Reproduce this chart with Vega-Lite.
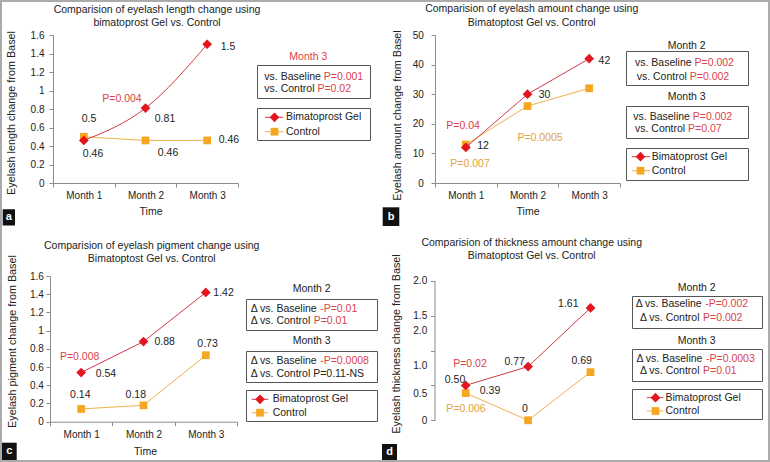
{
"$schema":"https://vega.github.io/schema/vega-lite/v6.json",
"background":"#ababab",
"padding":2,
"autosize":{"type":"pad"},
"columns":2,
"spacing":0,
"bounds":"flush",
"config":{
 "view":{"stroke":null,"fill":"white"},
 "font":"Liberation Sans",
 "text":{"font":"Liberation Sans","fontSize":10.5,"color":"#222222","baseline":"middle"},
 "line":{"strokeWidth":1},
 "axis":{"labelFont":"Liberation Sans","labelFontSize":10,"labelColor":"#222222","titleFont":"Liberation Sans","titleFontSize":10.8,"titleColor":"#222222","titleFontWeight":"normal","domainColor":"#8c8c8c","tickColor":"#8c8c8c","tickSize":4,"grid":false,"labelFlush":false,"labelOverlap":false},
 "axisX":{"titleFontSize":10.5}
},
"concat":[
{
 "width":383,"height":229,
 "resolve":{"scale":{"x":"independent","y":"independent"}},
 "layer":[
  {
   "data":{"values":[
    {"month":"Month 1","series":"Bimatoprost Gel","value":0.46,"label":"0.46"},
    {"month":"Month 2","series":"Bimatoprost Gel","value":0.81,"label":"0.81"},
    {"month":"Month 3","series":"Bimatoprost Gel","value":1.5,"label":"1.5"},
    {"month":"Month 1","series":"Control","value":0.5,"label":"0.5"},
    {"month":"Month 2","series":"Control","value":0.46,"label":"0.46"},
    {"month":"Month 3","series":"Control","value":0.46,"label":"0.46"}]},
   "encoding":{
    "x":{"field":"month","type":"nominal","bandPosition":0.5,"scale":{"type":"band","domain":["Month 1","Month 2","Month 3"],"range":[51,236],"paddingInner":0,"paddingOuter":0},"axis":{"title":"Time","offset":-48,"tickBand":"extent","labelAngle":0,"labelPadding":3,"titleX":148.5,"titleY":28,"titleBaseline":"middle","titleAlign":"center"}},
    "y":{"field":"value","type":"quantitative","scale":{"domain":[0,1.6],"range":[181,33],"nice":false,"zero":false},"axis":{"title":"Eyelash length change from Basel","offset":-51,"values":[0,0.2,0.4,0.6,0.8,1,1.2,1.4,1.6],"format":"~g","labelPadding":5,"titleX":-41.8,"titleY":110.5,"titleBaseline":"middle","titleAlign":"center","titleAngle":-90}}
   },
   "layer":[
    {"transform":[{"filter":"datum.series==='Control'"}],"mark":{"type":"line","color":"#efb14c"}},
    {"transform":[{"filter":"datum.series==='Control'"}],"mark":{"type":"point","shape":"square","filled":true,"size":60,"color":"#f6a722","opacity":1}},
    {"transform":[{"filter":"datum.series==='Bimatoprost Gel'"}],"mark":{"type":"line","color":"#d23a45","interpolate":"monotone"}},
    {"transform":[{"filter":"datum.series==='Bimatoprost Gel'"}],"mark":{"type":"point","shape":"diamond","filled":true,"size":95,"color":"#e3151f","opacity":1}},
    {"transform":[{"filter":"datum.series==='Bimatoprost Gel' && datum.month==='Month 1'"}],"mark":{"type":"text","dx":9.2,"dy":13.5},"encoding":{"text":{"field":"label"}}},
    {"transform":[{"filter":"datum.series==='Control' && datum.month==='Month 1'"}],"mark":{"type":"text","dx":5.2,"dy":-17.8},"encoding":{"text":{"field":"label"}}},
    {"transform":[{"filter":"datum.series==='Bimatoprost Gel' && datum.month==='Month 2'"}],"mark":{"type":"text","dx":-23.5,"dy":-9.1,"color":"#d8434b"},"encoding":{"text":{"value":"P=0.004"}}},
    {"transform":[{"filter":"datum.series==='Bimatoprost Gel' && datum.month==='Month 2'"}],"mark":{"type":"text","dx":19.5,"dy":10.9},"encoding":{"text":{"field":"label"}}},
    {"transform":[{"filter":"datum.series==='Bimatoprost Gel' && datum.month==='Month 3'"}],"mark":{"type":"text","dx":20.8,"dy":2.8},"encoding":{"text":{"field":"label"}}},
    {"transform":[{"filter":"datum.series==='Control' && datum.month==='Month 2'"}],"mark":{"type":"text","dx":22.5,"dy":12.5},"encoding":{"text":{"field":"label"}}},
    {"transform":[{"filter":"datum.series==='Control' && datum.month==='Month 3'"}],"mark":{"type":"text","dx":21.8,"dy":-0.5},"encoding":{"text":{"field":"label"}}}
   ]
  },
  {
   "data":{"values":[{}]},
   "layer":[
    {"mark":{"type":"text"},"encoding":{"x":{"datum":155,"type":"quantitative","scale":{"domain":[0,383],"nice":false,"zero":false},"axis":null},"y":{"datum":7.5,"type":"quantitative","scale":{"domain":[0,229],"nice":false,"zero":false,"reverse":true},"axis":null},"text":{"value":"Comparision of eyelash length change using"}}},
    {"mark":{"type":"text"},"encoding":{"x":{"datum":155,"type":"quantitative","scale":{"domain":[0,383],"nice":false,"zero":false},"axis":null},"y":{"datum":20.8,"type":"quantitative","scale":{"domain":[0,229],"nice":false,"zero":false,"reverse":true},"axis":null},"text":{"value":"bimatoprost Gel vs. Control"}}},
    {"mark":{"type":"text","color":"#d8434b"},"encoding":{"x":{"datum":306.3,"type":"quantitative","scale":{"domain":[0,383],"nice":false,"zero":false},"axis":null},"y":{"datum":55.3,"type":"quantitative","scale":{"domain":[0,229],"nice":false,"zero":false,"reverse":true},"axis":null},"text":{"value":"Month 3"}}},
    {"mark":{"type":"rect","fill":"transparent","stroke":"#555555","strokeWidth":1},"encoding":{"x":{"datum":255.5,"type":"quantitative","scale":{"domain":[0,383],"nice":false,"zero":false},"axis":null},"x2":{"datum":368.5},"y":{"datum":63.5,"type":"quantitative","scale":{"domain":[0,229],"nice":false,"zero":false,"reverse":true},"axis":null},"y2":{"datum":96.5}}},
    {"mark":{"type":"text","align":"left"},"encoding":{"x":{"datum":262.3,"type":"quantitative","scale":{"domain":[0,383],"nice":false,"zero":false},"axis":null},"y":{"datum":74.7,"type":"quantitative","scale":{"domain":[0,229],"nice":false,"zero":false,"reverse":true},"axis":null},"text":{"value":"vs. Baseline"}}},
    {"mark":{"type":"text","align":"left","color":"#d8434b"},"encoding":{"x":{"datum":321.8,"type":"quantitative","scale":{"domain":[0,383],"nice":false,"zero":false},"axis":null},"y":{"datum":74.7,"type":"quantitative","scale":{"domain":[0,229],"nice":false,"zero":false,"reverse":true},"axis":null},"text":{"value":"P=0.001"}}},
    {"mark":{"type":"text","align":"left"},"encoding":{"x":{"datum":262.3,"type":"quantitative","scale":{"domain":[0,383],"nice":false,"zero":false},"axis":null},"y":{"datum":87.3,"type":"quantitative","scale":{"domain":[0,229],"nice":false,"zero":false,"reverse":true},"axis":null},"text":{"value":"vs. Control"}}},
    {"mark":{"type":"text","align":"left","color":"#d8434b"},"encoding":{"x":{"datum":315.4,"type":"quantitative","scale":{"domain":[0,383],"nice":false,"zero":false},"axis":null},"y":{"datum":87.3,"type":"quantitative","scale":{"domain":[0,229],"nice":false,"zero":false,"reverse":true},"axis":null},"text":{"value":"P=0.02"}}},
    {"mark":{"type":"rect","fill":"transparent","stroke":"#555555","strokeWidth":1},"encoding":{"x":{"datum":255.5,"type":"quantitative","scale":{"domain":[0,383],"nice":false,"zero":false},"axis":null},"x2":{"datum":368.5},"y":{"datum":106.5,"type":"quantitative","scale":{"domain":[0,229],"nice":false,"zero":false,"reverse":true},"axis":null},"y2":{"datum":138.5}}},
    {"mark":{"type":"rule","color":"#d23a45","strokeWidth":1},"encoding":{"x":{"datum":263,"type":"quantitative","scale":{"domain":[0,383],"nice":false,"zero":false},"axis":null},"x2":{"datum":281.3},"y":{"datum":115.3,"type":"quantitative","scale":{"domain":[0,229],"nice":false,"zero":false,"reverse":true},"axis":null}}},
    {"mark":{"type":"point","shape":"diamond","filled":true,"size":95,"color":"#e3151f","opacity":1},"encoding":{"x":{"datum":272.5,"type":"quantitative","scale":{"domain":[0,383],"nice":false,"zero":false},"axis":null},"y":{"datum":115.3,"type":"quantitative","scale":{"domain":[0,229],"nice":false,"zero":false,"reverse":true},"axis":null}}},
    {"mark":{"type":"text","align":"left"},"encoding":{"x":{"datum":284,"type":"quantitative","scale":{"domain":[0,383],"nice":false,"zero":false},"axis":null},"y":{"datum":115.3,"type":"quantitative","scale":{"domain":[0,229],"nice":false,"zero":false,"reverse":true},"axis":null},"text":{"value":"Bimatoprost Gel"}}},
    {"mark":{"type":"rule","color":"#efb14c","strokeWidth":1},"encoding":{"x":{"datum":263,"type":"quantitative","scale":{"domain":[0,383],"nice":false,"zero":false},"axis":null},"x2":{"datum":281.3},"y":{"datum":129.7,"type":"quantitative","scale":{"domain":[0,229],"nice":false,"zero":false,"reverse":true},"axis":null}}},
    {"mark":{"type":"point","shape":"square","filled":true,"size":60,"color":"#f6a722","opacity":1},"encoding":{"x":{"datum":272.5,"type":"quantitative","scale":{"domain":[0,383],"nice":false,"zero":false},"axis":null},"y":{"datum":129.7,"type":"quantitative","scale":{"domain":[0,229],"nice":false,"zero":false,"reverse":true},"axis":null}}},
    {"mark":{"type":"text","align":"left"},"encoding":{"x":{"datum":284,"type":"quantitative","scale":{"domain":[0,383],"nice":false,"zero":false},"axis":null},"y":{"datum":129.7,"type":"quantitative","scale":{"domain":[0,229],"nice":false,"zero":false,"reverse":true},"axis":null},"text":{"value":"Control"}}},
    {"mark":{"type":"rect","color":"#111111"},"encoding":{"x":{"datum":0.7,"type":"quantitative","scale":{"domain":[0,383],"nice":false,"zero":false},"axis":null},"x2":{"datum":13},"y":{"datum":207.3,"type":"quantitative","scale":{"domain":[0,229],"nice":false,"zero":false,"reverse":true},"axis":null},"y2":{"datum":223.5}}},
    {"mark":{"type":"text","color":"white","fontWeight":"bold","fontSize":11},"encoding":{"x":{"datum":6.9,"type":"quantitative","scale":{"domain":[0,383],"nice":false,"zero":false},"axis":null},"y":{"datum":215.2,"type":"quantitative","scale":{"domain":[0,229],"nice":false,"zero":false,"reverse":true},"axis":null},"text":{"value":"a"}}}
   ]
  }
 ]
},
{
 "width":383,"height":229,
 "resolve":{"scale":{"x":"independent","y":"independent"}},
 "layer":[
  {
   "data":{"values":[
    {"month":"Month 1","series":"Bimatoprost Gel","value":12,"label":"12"},
    {"month":"Month 2","series":"Bimatoprost Gel","value":30,"label":"30"},
    {"month":"Month 3","series":"Bimatoprost Gel","value":42,"label":"42"},
    {"month":"Month 1","series":"Control","value":13,"label":"13"},
    {"month":"Month 2","series":"Control","value":26,"label":"26"},
    {"month":"Month 3","series":"Control","value":32,"label":"32"}]},
   "encoding":{
    "x":{"field":"month","type":"nominal","bandPosition":0.5,"scale":{"type":"band","domain":["Month 1","Month 2","Month 3"],"range":[50,235],"paddingInner":0,"paddingOuter":0},"axis":{"title":"Time","offset":-48,"tickBand":"extent","labelAngle":0,"labelPadding":3,"titleX":142.5,"titleY":28,"titleBaseline":"middle","titleAlign":"center"}},
    "y":{"field":"value","type":"quantitative","scale":{"domain":[0,50],"range":[181,33],"nice":false,"zero":false},"axis":{"title":"Eyelash amount change from Basel","offset":-50,"values":[0,10,20,30,40,50],"format":"d","labelPadding":7.7,"titleX":-38,"titleY":113,"titleBaseline":"middle","titleAlign":"center","titleAngle":-90}}
   },
   "layer":[
    {"transform":[{"filter":"datum.series==='Control'"}],"mark":{"type":"line","color":"#efb14c"}},
    {"transform":[{"filter":"datum.series==='Control'"}],"mark":{"type":"point","shape":"square","filled":true,"size":60,"color":"#f6a722","opacity":1}},
    {"transform":[{"filter":"datum.series==='Bimatoprost Gel'"}],"mark":{"type":"line","color":"#d23a45"}},
    {"transform":[{"filter":"datum.series==='Bimatoprost Gel'"}],"mark":{"type":"point","shape":"diamond","filled":true,"size":95,"color":"#e3151f","opacity":1}},
    {"transform":[{"filter":"datum.series==='Bimatoprost Gel' && datum.month==='Month 1'"}],"mark":{"type":"text","dx":17.2,"dy":-1.5},"encoding":{"text":{"field":"label"}}},
    {"transform":[{"filter":"datum.series==='Bimatoprost Gel' && datum.month==='Month 2'"}],"mark":{"type":"text","dx":17,"dy":0.8},"encoding":{"text":{"field":"label"}}},
    {"transform":[{"filter":"datum.series==='Bimatoprost Gel' && datum.month==='Month 3'"}],"mark":{"type":"text","dx":15.3,"dy":2.3},"encoding":{"text":{"field":"label"}}},
    {"transform":[{"filter":"datum.series==='Bimatoprost Gel' && datum.month==='Month 1'"}],"mark":{"type":"text","dx":-2.8,"dy":-21.5,"color":"#d8434b"},"encoding":{"text":{"value":"P=0.04"}}},
    {"transform":[{"filter":"datum.series==='Control' && datum.month==='Month 1'"}],"mark":{"type":"text","dx":4.2,"dy":19.5,"color":"#e3a13c"},"encoding":{"text":{"value":"P=0.007"}}},
    {"transform":[{"filter":"datum.series==='Control' && datum.month==='Month 2'"}],"mark":{"type":"text","dx":12.5,"dy":31.7,"color":"#e3a13c"},"encoding":{"text":{"value":"P=0.0005"}}}
   ]
  },
  {
   "data":{"values":[{}]},
   "layer":[
    {"mark":{"type":"text"},"encoding":{"x":{"datum":146.7,"type":"quantitative","scale":{"domain":[0,383],"nice":false,"zero":false},"axis":null},"y":{"datum":7.3,"type":"quantitative","scale":{"domain":[0,229],"nice":false,"zero":false,"reverse":true},"axis":null},"text":{"value":"Comparision of eyelash amount change using"}}},
    {"mark":{"type":"text"},"encoding":{"x":{"datum":146.7,"type":"quantitative","scale":{"domain":[0,383],"nice":false,"zero":false},"axis":null},"y":{"datum":20.7,"type":"quantitative","scale":{"domain":[0,229],"nice":false,"zero":false,"reverse":true},"axis":null},"text":{"value":"Bimatoptost Gel vs. Control"}}},
    {"mark":{"type":"text"},"encoding":{"x":{"datum":301.7,"type":"quantitative","scale":{"domain":[0,383],"nice":false,"zero":false},"axis":null},"y":{"datum":43.7,"type":"quantitative","scale":{"domain":[0,229],"nice":false,"zero":false,"reverse":true},"axis":null},"text":{"value":"Month 2"}}},
    {"mark":{"type":"rect","fill":"transparent","stroke":"#555555","strokeWidth":1},"encoding":{"x":{"datum":241.5,"type":"quantitative","scale":{"domain":[0,383],"nice":false,"zero":false},"axis":null},"x2":{"datum":363.5},"y":{"datum":49.5,"type":"quantitative","scale":{"domain":[0,229],"nice":false,"zero":false,"reverse":true},"axis":null},"y2":{"datum":83.5}}},
    {"mark":{"type":"text","align":"left"},"encoding":{"x":{"datum":250,"type":"quantitative","scale":{"domain":[0,383],"nice":false,"zero":false},"axis":null},"y":{"datum":61.3,"type":"quantitative","scale":{"domain":[0,229],"nice":false,"zero":false,"reverse":true},"axis":null},"text":{"value":"vs. Baseline"}}},
    {"mark":{"type":"text","align":"left","color":"#d8434b"},"encoding":{"x":{"datum":309.5,"type":"quantitative","scale":{"domain":[0,383],"nice":false,"zero":false},"axis":null},"y":{"datum":61.3,"type":"quantitative","scale":{"domain":[0,229],"nice":false,"zero":false,"reverse":true},"axis":null},"text":{"value":"P=0.002"}}},
    {"mark":{"type":"text","align":"left"},"encoding":{"x":{"datum":251.7,"type":"quantitative","scale":{"domain":[0,383],"nice":false,"zero":false},"axis":null},"y":{"datum":74.7,"type":"quantitative","scale":{"domain":[0,229],"nice":false,"zero":false,"reverse":true},"axis":null},"text":{"value":"vs. Control"}}},
    {"mark":{"type":"text","align":"left","color":"#d8434b"},"encoding":{"x":{"datum":304.8,"type":"quantitative","scale":{"domain":[0,383],"nice":false,"zero":false},"axis":null},"y":{"datum":74.7,"type":"quantitative","scale":{"domain":[0,229],"nice":false,"zero":false,"reverse":true},"axis":null},"text":{"value":"P=0.002"}}},
    {"mark":{"type":"text"},"encoding":{"x":{"datum":301.7,"type":"quantitative","scale":{"domain":[0,383],"nice":false,"zero":false},"axis":null},"y":{"datum":95.3,"type":"quantitative","scale":{"domain":[0,229],"nice":false,"zero":false,"reverse":true},"axis":null},"text":{"value":"Month 3"}}},
    {"mark":{"type":"rect","fill":"transparent","stroke":"#555555","strokeWidth":1},"encoding":{"x":{"datum":241.5,"type":"quantitative","scale":{"domain":[0,383],"nice":false,"zero":false},"axis":null},"x2":{"datum":363.5},"y":{"datum":104.5,"type":"quantitative","scale":{"domain":[0,229],"nice":false,"zero":false,"reverse":true},"axis":null},"y2":{"datum":136.5}}},
    {"mark":{"type":"text","align":"left"},"encoding":{"x":{"datum":248.3,"type":"quantitative","scale":{"domain":[0,383],"nice":false,"zero":false},"axis":null},"y":{"datum":114.7,"type":"quantitative","scale":{"domain":[0,229],"nice":false,"zero":false,"reverse":true},"axis":null},"text":{"value":"vs. Baseline"}}},
    {"mark":{"type":"text","align":"left","color":"#d8434b"},"encoding":{"x":{"datum":307.8,"type":"quantitative","scale":{"domain":[0,383],"nice":false,"zero":false},"axis":null},"y":{"datum":114.7,"type":"quantitative","scale":{"domain":[0,229],"nice":false,"zero":false,"reverse":true},"axis":null},"text":{"value":"P=0.002"}}},
    {"mark":{"type":"text","align":"left"},"encoding":{"x":{"datum":250,"type":"quantitative","scale":{"domain":[0,383],"nice":false,"zero":false},"axis":null},"y":{"datum":127.3,"type":"quantitative","scale":{"domain":[0,229],"nice":false,"zero":false,"reverse":true},"axis":null},"text":{"value":"vs. Control"}}},
    {"mark":{"type":"text","align":"left","color":"#d8434b"},"encoding":{"x":{"datum":303.1,"type":"quantitative","scale":{"domain":[0,383],"nice":false,"zero":false},"axis":null},"y":{"datum":127.3,"type":"quantitative","scale":{"domain":[0,229],"nice":false,"zero":false,"reverse":true},"axis":null},"text":{"value":"P=0.07"}}},
    {"mark":{"type":"rect","fill":"transparent","stroke":"#555555","strokeWidth":1},"encoding":{"x":{"datum":241.5,"type":"quantitative","scale":{"domain":[0,383],"nice":false,"zero":false},"axis":null},"x2":{"datum":363.5},"y":{"datum":146.5,"type":"quantitative","scale":{"domain":[0,229],"nice":false,"zero":false,"reverse":true},"axis":null},"y2":{"datum":178.5}}},
    {"mark":{"type":"rule","color":"#d23a45","strokeWidth":1},"encoding":{"x":{"datum":246.7,"type":"quantitative","scale":{"domain":[0,383],"nice":false,"zero":false},"axis":null},"x2":{"datum":265},"y":{"datum":154.7,"type":"quantitative","scale":{"domain":[0,229],"nice":false,"zero":false,"reverse":true},"axis":null}}},
    {"mark":{"type":"point","shape":"diamond","filled":true,"size":95,"color":"#e3151f","opacity":1},"encoding":{"x":{"datum":255.5,"type":"quantitative","scale":{"domain":[0,383],"nice":false,"zero":false},"axis":null},"y":{"datum":154.7,"type":"quantitative","scale":{"domain":[0,229],"nice":false,"zero":false,"reverse":true},"axis":null}}},
    {"mark":{"type":"text","align":"left"},"encoding":{"x":{"datum":266.7,"type":"quantitative","scale":{"domain":[0,383],"nice":false,"zero":false},"axis":null},"y":{"datum":154.7,"type":"quantitative","scale":{"domain":[0,229],"nice":false,"zero":false,"reverse":true},"axis":null},"text":{"value":"Bimatoprost Gel"}}},
    {"mark":{"type":"rule","color":"#efb14c","strokeWidth":1},"encoding":{"x":{"datum":246.7,"type":"quantitative","scale":{"domain":[0,383],"nice":false,"zero":false},"axis":null},"x2":{"datum":265},"y":{"datum":168.7,"type":"quantitative","scale":{"domain":[0,229],"nice":false,"zero":false,"reverse":true},"axis":null}}},
    {"mark":{"type":"point","shape":"square","filled":true,"size":60,"color":"#f6a722","opacity":1},"encoding":{"x":{"datum":255.5,"type":"quantitative","scale":{"domain":[0,383],"nice":false,"zero":false},"axis":null},"y":{"datum":168.7,"type":"quantitative","scale":{"domain":[0,229],"nice":false,"zero":false,"reverse":true},"axis":null}}},
    {"mark":{"type":"text","align":"left"},"encoding":{"x":{"datum":266.7,"type":"quantitative","scale":{"domain":[0,383],"nice":false,"zero":false},"axis":null},"y":{"datum":168.7,"type":"quantitative","scale":{"domain":[0,229],"nice":false,"zero":false,"reverse":true},"axis":null},"text":{"value":"Control"}}},
    {"mark":{"type":"rect","color":"#111111"},"encoding":{"x":{"datum":-2.3,"type":"quantitative","scale":{"domain":[0,383],"nice":false,"zero":false},"axis":null},"x2":{"datum":14.3},"y":{"datum":205.3,"type":"quantitative","scale":{"domain":[0,229],"nice":false,"zero":false,"reverse":true},"axis":null},"y2":{"datum":224}}},
    {"mark":{"type":"text","color":"white","fontWeight":"bold","fontSize":11},"encoding":{"x":{"datum":6,"type":"quantitative","scale":{"domain":[0,383],"nice":false,"zero":false},"axis":null},"y":{"datum":214.7,"type":"quantitative","scale":{"domain":[0,229],"nice":false,"zero":false,"reverse":true},"axis":null},"text":{"value":"b"}}}
   ]
  }
 ]
},
{
 "width":383,"height":229,
 "resolve":{"scale":{"x":"independent","y":"independent"}},
 "layer":[
  {
   "data":{"values":[
    {"month":"Month 1","series":"Bimatoprost Gel","value":0.54,"label":"0.54"},
    {"month":"Month 2","series":"Bimatoprost Gel","value":0.88,"label":"0.88"},
    {"month":"Month 3","series":"Bimatoprost Gel","value":1.42,"label":"1.42"},
    {"month":"Month 1","series":"Control","value":0.14,"label":"0.14"},
    {"month":"Month 2","series":"Control","value":0.18,"label":"0.18"},
    {"month":"Month 3","series":"Control","value":0.73,"label":"0.73"}]},
   "encoding":{
    "x":{"field":"month","type":"nominal","bandPosition":0.5,"scale":{"type":"band","domain":["Month 1","Month 2","Month 3"],"range":[48,235],"paddingInner":0,"paddingOuter":0},"axis":{"title":"Time","offset":-38.3,"tickBand":"extent","labelAngle":0,"labelPadding":4,"titleX":143,"titleY":29.3,"titleBaseline":"middle","titleAlign":"center"}},
    "y":{"field":"value","type":"quantitative","scale":{"domain":[0,1.6],"range":[190.7,45],"nice":false,"zero":false},"axis":{"title":"Eyelash pigment change from Basel","offset":-48,"values":[0,0.2,0.4,0.6,0.8,1,1.2,1.4,1.6],"format":"~g","labelPadding":2.7,"titleX":-37.2,"titleY":110,"titleBaseline":"middle","titleAlign":"center","titleAngle":-90}}
   },
   "layer":[
    {"transform":[{"filter":"datum.series==='Control'"}],"mark":{"type":"line","color":"#efb14c"}},
    {"transform":[{"filter":"datum.series==='Control'"}],"mark":{"type":"point","shape":"square","filled":true,"size":60,"color":"#f6a722","opacity":1}},
    {"transform":[{"filter":"datum.series==='Bimatoprost Gel'"}],"mark":{"type":"line","color":"#d23a45"}},
    {"transform":[{"filter":"datum.series==='Bimatoprost Gel'"}],"mark":{"type":"point","shape":"diamond","filled":true,"size":95,"color":"#e3151f","opacity":1}},
    {"transform":[{"filter":"datum.series==='Bimatoprost Gel' && datum.month==='Month 1'"}],"mark":{"type":"text","dx":-1.5,"dy":-15.5,"color":"#d8434b"},"encoding":{"text":{"value":"P=0.008"}}},
    {"transform":[{"filter":"datum.series==='Bimatoprost Gel' && datum.month==='Month 1'"}],"mark":{"type":"text","dx":24.8,"dy":1.2},"encoding":{"text":{"field":"label"}}},
    {"transform":[{"filter":"datum.series==='Bimatoprost Gel' && datum.month==='Month 2'"}],"mark":{"type":"text","dx":21.2,"dy":0},"encoding":{"text":{"field":"label"}}},
    {"transform":[{"filter":"datum.series==='Bimatoprost Gel' && datum.month==='Month 3'"}],"mark":{"type":"text","dx":17.7,"dy":0.9},"encoding":{"text":{"field":"label"}}},
    {"transform":[{"filter":"datum.series==='Control' && datum.month==='Month 1'"}],"mark":{"type":"text","dx":-0.9,"dy":-13.6},"encoding":{"text":{"field":"label"}}},
    {"transform":[{"filter":"datum.series==='Control' && datum.month==='Month 2'"}],"mark":{"type":"text","dx":-7.7,"dy":-10},"encoding":{"text":{"field":"label"}}},
    {"transform":[{"filter":"datum.series==='Control' && datum.month==='Month 3'"}],"mark":{"type":"text","dx":1.7,"dy":-10.9},"encoding":{"text":{"field":"label"}}}
   ]
  },
  {
   "data":{"values":[{}]},
   "layer":[
    {"mark":{"type":"text"},"encoding":{"x":{"datum":149.7,"type":"quantitative","scale":{"domain":[0,383],"nice":false,"zero":false},"axis":null},"y":{"datum":15,"type":"quantitative","scale":{"domain":[0,229],"nice":false,"zero":false,"reverse":true},"axis":null},"text":{"value":"Comparision of eyelash pigment change using"}}},
    {"mark":{"type":"text"},"encoding":{"x":{"datum":149.7,"type":"quantitative","scale":{"domain":[0,383],"nice":false,"zero":false},"axis":null},"y":{"datum":28.3,"type":"quantitative","scale":{"domain":[0,229],"nice":false,"zero":false,"reverse":true},"axis":null},"text":{"value":"Bimatoptost Gel vs. Control"}}},
    {"mark":{"type":"text"},"encoding":{"x":{"datum":309.7,"type":"quantitative","scale":{"domain":[0,383],"nice":false,"zero":false},"axis":null},"y":{"datum":58.3,"type":"quantitative","scale":{"domain":[0,229],"nice":false,"zero":false,"reverse":true},"axis":null},"text":{"value":"Month 2"}}},
    {"mark":{"type":"rect","fill":"transparent","stroke":"#555555","strokeWidth":1},"encoding":{"x":{"datum":244.5,"type":"quantitative","scale":{"domain":[0,383],"nice":false,"zero":false},"axis":null},"x2":{"datum":375.5},"y":{"datum":68.5,"type":"quantitative","scale":{"domain":[0,229],"nice":false,"zero":false,"reverse":true},"axis":null},"y2":{"datum":99.5}}},
    {"mark":{"type":"text","align":"left"},"encoding":{"x":{"datum":248.7,"type":"quantitative","scale":{"domain":[0,383],"nice":false,"zero":false},"axis":null},"y":{"datum":77.7,"type":"quantitative","scale":{"domain":[0,229],"nice":false,"zero":false,"reverse":true},"axis":null},"text":{"value":"Δ vs. Baseline"}}},
    {"mark":{"type":"text","align":"left","color":"#d8434b"},"encoding":{"x":{"datum":318.2,"type":"quantitative","scale":{"domain":[0,383],"nice":false,"zero":false},"axis":null},"y":{"datum":77.7,"type":"quantitative","scale":{"domain":[0,229],"nice":false,"zero":false,"reverse":true},"axis":null},"text":{"value":"-P=0.01"}}},
    {"mark":{"type":"text","align":"left"},"encoding":{"x":{"datum":248.7,"type":"quantitative","scale":{"domain":[0,383],"nice":false,"zero":false},"axis":null},"y":{"datum":90,"type":"quantitative","scale":{"domain":[0,229],"nice":false,"zero":false,"reverse":true},"axis":null},"text":{"value":"Δ vs. Control"}}},
    {"mark":{"type":"text","align":"left","color":"#d8434b"},"encoding":{"x":{"datum":311.7,"type":"quantitative","scale":{"domain":[0,383],"nice":false,"zero":false},"axis":null},"y":{"datum":90,"type":"quantitative","scale":{"domain":[0,229],"nice":false,"zero":false,"reverse":true},"axis":null},"text":{"value":"P=0.01"}}},
    {"mark":{"type":"text"},"encoding":{"x":{"datum":309.7,"type":"quantitative","scale":{"domain":[0,383],"nice":false,"zero":false},"axis":null},"y":{"datum":110,"type":"quantitative","scale":{"domain":[0,229],"nice":false,"zero":false,"reverse":true},"axis":null},"text":{"value":"Month 3"}}},
    {"mark":{"type":"rect","fill":"transparent","stroke":"#555555","strokeWidth":1},"encoding":{"x":{"datum":244.5,"type":"quantitative","scale":{"domain":[0,383],"nice":false,"zero":false},"axis":null},"x2":{"datum":375.5},"y":{"datum":120.5,"type":"quantitative","scale":{"domain":[0,229],"nice":false,"zero":false,"reverse":true},"axis":null},"y2":{"datum":151.5}}},
    {"mark":{"type":"text","align":"left"},"encoding":{"x":{"datum":248.7,"type":"quantitative","scale":{"domain":[0,383],"nice":false,"zero":false},"axis":null},"y":{"datum":130,"type":"quantitative","scale":{"domain":[0,229],"nice":false,"zero":false,"reverse":true},"axis":null},"text":{"value":"Δ vs. Baseline"}}},
    {"mark":{"type":"text","align":"left","color":"#d8434b"},"encoding":{"x":{"datum":318.2,"type":"quantitative","scale":{"domain":[0,383],"nice":false,"zero":false},"axis":null},"y":{"datum":130,"type":"quantitative","scale":{"domain":[0,229],"nice":false,"zero":false,"reverse":true},"axis":null},"text":{"value":"-P=0.0008"}}},
    {"mark":{"type":"text","align":"left"},"encoding":{"x":{"datum":248.7,"type":"quantitative","scale":{"domain":[0,383],"nice":false,"zero":false},"axis":null},"y":{"datum":142.7,"type":"quantitative","scale":{"domain":[0,229],"nice":false,"zero":false,"reverse":true},"axis":null},"text":{"value":"Δ vs. Control P=0.11-NS"}}},
    {"mark":{"type":"rect","fill":"transparent","stroke":"#555555","strokeWidth":1},"encoding":{"x":{"datum":244.5,"type":"quantitative","scale":{"domain":[0,383],"nice":false,"zero":false},"axis":null},"x2":{"datum":375.5},"y":{"datum":159.5,"type":"quantitative","scale":{"domain":[0,229],"nice":false,"zero":false,"reverse":true},"axis":null},"y2":{"datum":190.5}}},
    {"mark":{"type":"rule","color":"#d23a45","strokeWidth":1},"encoding":{"x":{"datum":249.7,"type":"quantitative","scale":{"domain":[0,383],"nice":false,"zero":false},"axis":null},"x2":{"datum":266.3},"y":{"datum":168.3,"type":"quantitative","scale":{"domain":[0,229],"nice":false,"zero":false,"reverse":true},"axis":null}}},
    {"mark":{"type":"point","shape":"diamond","filled":true,"size":95,"color":"#e3151f","opacity":1},"encoding":{"x":{"datum":258,"type":"quantitative","scale":{"domain":[0,383],"nice":false,"zero":false},"axis":null},"y":{"datum":168.3,"type":"quantitative","scale":{"domain":[0,229],"nice":false,"zero":false,"reverse":true},"axis":null}}},
    {"mark":{"type":"text","align":"left"},"encoding":{"x":{"datum":270.7,"type":"quantitative","scale":{"domain":[0,383],"nice":false,"zero":false},"axis":null},"y":{"datum":168.3,"type":"quantitative","scale":{"domain":[0,229],"nice":false,"zero":false,"reverse":true},"axis":null},"text":{"value":"Bimatoprost Gel"}}},
    {"mark":{"type":"rule","color":"#efb14c","strokeWidth":1},"encoding":{"x":{"datum":249.7,"type":"quantitative","scale":{"domain":[0,383],"nice":false,"zero":false},"axis":null},"x2":{"datum":266.3},"y":{"datum":181.7,"type":"quantitative","scale":{"domain":[0,229],"nice":false,"zero":false,"reverse":true},"axis":null}}},
    {"mark":{"type":"point","shape":"square","filled":true,"size":60,"color":"#f6a722","opacity":1},"encoding":{"x":{"datum":258,"type":"quantitative","scale":{"domain":[0,383],"nice":false,"zero":false},"axis":null},"y":{"datum":181.7,"type":"quantitative","scale":{"domain":[0,229],"nice":false,"zero":false,"reverse":true},"axis":null}}},
    {"mark":{"type":"text","align":"left"},"encoding":{"x":{"datum":270.7,"type":"quantitative","scale":{"domain":[0,383],"nice":false,"zero":false},"axis":null},"y":{"datum":181.7,"type":"quantitative","scale":{"domain":[0,229],"nice":false,"zero":false,"reverse":true},"axis":null},"text":{"value":"Control"}}},
    {"mark":{"type":"rect","color":"#111111"},"encoding":{"x":{"datum":0,"type":"quantitative","scale":{"domain":[0,383],"nice":false,"zero":false},"axis":null},"x2":{"datum":14.7},"y":{"datum":211.7,"type":"quantitative","scale":{"domain":[0,229],"nice":false,"zero":false,"reverse":true},"axis":null},"y2":{"datum":229}}},
    {"mark":{"type":"text","color":"white","fontWeight":"bold","fontSize":11},"encoding":{"x":{"datum":7.3,"type":"quantitative","scale":{"domain":[0,383],"nice":false,"zero":false},"axis":null},"y":{"datum":220.3,"type":"quantitative","scale":{"domain":[0,229],"nice":false,"zero":false,"reverse":true},"axis":null},"text":{"value":"c"}}}
   ]
  }
 ]
},
{
 "width":383,"height":229,
 "resolve":{"scale":{"x":"independent","y":"independent"}},
 "layer":[
  {
   "data":{"values":[
    {"month":"Month 1","series":"Bimatoprost Gel","value":0.5,"label":"0.50"},
    {"month":"Month 2","series":"Bimatoprost Gel","value":0.77,"label":"0.77"},
    {"month":"Month 3","series":"Bimatoprost Gel","value":1.61,"label":"1.61"},
    {"month":"Month 1","series":"Control","value":0.39,"label":"0.39"},
    {"month":"Month 2","series":"Control","value":0,"label":"0"},
    {"month":"Month 3","series":"Control","value":0.69,"label":"0.69"}]},
   "resolve":{"axis":{"y":"independent"}},
   "layer":[
    {
     "encoding":{
      "x":{"field":"month","type":"nominal","bandPosition":0.5,"scale":{"type":"band","domain":["Month 1","Month 2","Month 3"],"range":[49.5,236.7],"paddingInner":0,"paddingOuter":0},"axis":{"title":"Time","offset":-39.7,"tickBand":"extent","labelAngle":0,"labelPadding":6,"titleX":161,"titleY":31.4,"titleBaseline":"middle","titleAlign":"center"}},
      "y":{"field":"value","type":"quantitative","scale":{"domain":[0,2],"range":[189.3,49.7],"nice":false,"zero":false},"axis":{"orient":"left","offset":-49.5,"values":[0,0.5,1,1.5,2],"labels":false,"title":null}}
     },
     "layer":[
      {"transform":[{"filter":"datum.series==='Control'"}],"mark":{"type":"line","color":"#efb14c"}},
      {"transform":[{"filter":"datum.series==='Control'"}],"mark":{"type":"point","shape":"square","filled":true,"size":60,"color":"#f6a722","opacity":1}},
      {"transform":[{"filter":"datum.series==='Bimatoprost Gel'"}],"mark":{"type":"line","color":"#d23a45"}},
      {"transform":[{"filter":"datum.series==='Bimatoprost Gel'"}],"mark":{"type":"point","shape":"diamond","filled":true,"size":95,"color":"#e3151f","opacity":1}},
      {"transform":[{"filter":"datum.series==='Bimatoprost Gel' && datum.month==='Month 1'"}],"mark":{"type":"text","dx":-10.7,"dy":-5.4},"encoding":{"text":{"field":"label"}}},
      {"transform":[{"filter":"datum.series==='Bimatoprost Gel' && datum.month==='Month 2'"}],"mark":{"type":"text","dx":-13.4,"dy":-4.6},"encoding":{"text":{"field":"label"}}},
      {"transform":[{"filter":"datum.series==='Bimatoprost Gel' && datum.month==='Month 3'"}],"mark":{"type":"text","dx":-22.2,"dy":-4.2},"encoding":{"text":{"field":"label"}}},
      {"transform":[{"filter":"datum.series==='Control' && datum.month==='Month 1'"}],"mark":{"type":"text","dx":24.3,"dy":-2.1},"encoding":{"text":{"field":"label"}}},
      {"transform":[{"filter":"datum.series==='Control' && datum.month==='Month 1'"}],"mark":{"type":"text","dx":0.3,"dy":16.2,"color":"#e3a13c"},"encoding":{"text":{"value":"P=0.006"}}},
      {"transform":[{"filter":"datum.series==='Control' && datum.month==='Month 2'"}],"mark":{"type":"text","dx":-3.1,"dy":-11},"encoding":{"text":{"field":"label"}}},
      {"transform":[{"filter":"datum.series==='Control' && datum.month==='Month 3'"}],"mark":{"type":"text","dx":-8.8,"dy":-11.1},"encoding":{"text":{"field":"label"}}}
     ]
    },
    {
     "transform":[{"filter":"datum.series==='Bimatoprost Gel' && datum.month==='Month 1'"}],
     "mark":{"type":"text","dx":4.3,"dy":-21.1,"color":"#d8434b"},
     "encoding":{
      "x":{"field":"month","type":"nominal","bandPosition":0.5,"scale":{"type":"band","domain":["Month 1","Month 2","Month 3"],"range":[49.5,236.7],"paddingInner":0,"paddingOuter":0},"axis":null},
      "y":{"field":"value","type":"quantitative","scale":{"domain":[0,2],"range":[189.3,49.7],"nice":false,"zero":false},"axis":{"orient":"left","offset":-49.5,"values":[0,0.39,0.78,1.28,1.5,2],"labelExpr":"datum.value == 0 ? '0' : datum.value < 0.5 ? '0.5' : datum.value < 1 ? '1.0' : datum.value < 1.4 ? '2.0' : datum.value < 1.9 ? '1.5' : '2.0'","ticks":false,"tickSize":0,"domain":false,"labelPadding":7.8,"title":"Eyelash thickness change from Basel","titleX":-38.2,"titleY":112.5,"titleBaseline":"middle","titleAlign":"center","titleAngle":-90}},
      "text":{"value":"P=0.02"}
     }
    }
   ]
  },
  {
   "data":{"values":[{}]},
   "layer":[
    {"mark":{"type":"text"},"encoding":{"x":{"datum":146.7,"type":"quantitative","scale":{"domain":[0,383],"nice":false,"zero":false},"axis":null},"y":{"datum":11.7,"type":"quantitative","scale":{"domain":[0,229],"nice":false,"zero":false,"reverse":true},"axis":null},"text":{"value":"Comparision of thickness amount change using"}}},
    {"mark":{"type":"text"},"encoding":{"x":{"datum":146.7,"type":"quantitative","scale":{"domain":[0,383],"nice":false,"zero":false},"axis":null},"y":{"datum":25,"type":"quantitative","scale":{"domain":[0,229],"nice":false,"zero":false,"reverse":true},"axis":null},"text":{"value":"Bimatoptost Gel vs. Control"}}},
    {"mark":{"type":"text"},"encoding":{"x":{"datum":311.7,"type":"quantitative","scale":{"domain":[0,383],"nice":false,"zero":false},"axis":null},"y":{"datum":56.7,"type":"quantitative","scale":{"domain":[0,229],"nice":false,"zero":false,"reverse":true},"axis":null},"text":{"value":"Month 2"}}},
    {"mark":{"type":"rect","fill":"transparent","stroke":"#555555","strokeWidth":1},"encoding":{"x":{"datum":247.5,"type":"quantitative","scale":{"domain":[0,383],"nice":false,"zero":false},"axis":null},"x2":{"datum":377.5},"y":{"datum":65.5,"type":"quantitative","scale":{"domain":[0,229],"nice":false,"zero":false,"reverse":true},"axis":null},"y2":{"datum":97.5}}},
    {"mark":{"type":"text","align":"left"},"encoding":{"x":{"datum":250.7,"type":"quantitative","scale":{"domain":[0,383],"nice":false,"zero":false},"axis":null},"y":{"datum":72.7,"type":"quantitative","scale":{"domain":[0,229],"nice":false,"zero":false,"reverse":true},"axis":null},"text":{"value":"Δ vs. Baseline"}}},
    {"mark":{"type":"text","align":"left","color":"#d8434b"},"encoding":{"x":{"datum":320.2,"type":"quantitative","scale":{"domain":[0,383],"nice":false,"zero":false},"axis":null},"y":{"datum":72.7,"type":"quantitative","scale":{"domain":[0,229],"nice":false,"zero":false,"reverse":true},"axis":null},"text":{"value":"-P=0.002"}}},
    {"mark":{"type":"text","align":"left"},"encoding":{"x":{"datum":255,"type":"quantitative","scale":{"domain":[0,383],"nice":false,"zero":false},"axis":null},"y":{"datum":87.3,"type":"quantitative","scale":{"domain":[0,229],"nice":false,"zero":false,"reverse":true},"axis":null},"text":{"value":"Δ vs. Control"}}},
    {"mark":{"type":"text","align":"left","color":"#d8434b"},"encoding":{"x":{"datum":318,"type":"quantitative","scale":{"domain":[0,383],"nice":false,"zero":false},"axis":null},"y":{"datum":87.3,"type":"quantitative","scale":{"domain":[0,229],"nice":false,"zero":false,"reverse":true},"axis":null},"text":{"value":"P=0.002"}}},
    {"mark":{"type":"text"},"encoding":{"x":{"datum":311.7,"type":"quantitative","scale":{"domain":[0,383],"nice":false,"zero":false},"axis":null},"y":{"datum":110,"type":"quantitative","scale":{"domain":[0,229],"nice":false,"zero":false,"reverse":true},"axis":null},"text":{"value":"Month 3"}}},
    {"mark":{"type":"rect","fill":"transparent","stroke":"#555555","strokeWidth":1},"encoding":{"x":{"datum":247.5,"type":"quantitative","scale":{"domain":[0,383],"nice":false,"zero":false},"axis":null},"x2":{"datum":377.5},"y":{"datum":118.5,"type":"quantitative","scale":{"domain":[0,229],"nice":false,"zero":false,"reverse":true},"axis":null},"y2":{"datum":150.5}}},
    {"mark":{"type":"text","align":"left"},"encoding":{"x":{"datum":251.5,"type":"quantitative","scale":{"domain":[0,383],"nice":false,"zero":false},"axis":null},"y":{"datum":127.7,"type":"quantitative","scale":{"domain":[0,229],"nice":false,"zero":false,"reverse":true},"axis":null},"text":{"value":"Δ vs. Baseline"}}},
    {"mark":{"type":"text","align":"left","color":"#d8434b"},"encoding":{"x":{"datum":321,"type":"quantitative","scale":{"domain":[0,383],"nice":false,"zero":false},"axis":null},"y":{"datum":127.7,"type":"quantitative","scale":{"domain":[0,229],"nice":false,"zero":false,"reverse":true},"axis":null},"text":{"value":"-P=0.0003"}}},
    {"mark":{"type":"text","align":"left"},"encoding":{"x":{"datum":255,"type":"quantitative","scale":{"domain":[0,383],"nice":false,"zero":false},"axis":null},"y":{"datum":140,"type":"quantitative","scale":{"domain":[0,229],"nice":false,"zero":false,"reverse":true},"axis":null},"text":{"value":"Δ vs. Control"}}},
    {"mark":{"type":"text","align":"left","color":"#d8434b"},"encoding":{"x":{"datum":318,"type":"quantitative","scale":{"domain":[0,383],"nice":false,"zero":false},"axis":null},"y":{"datum":140,"type":"quantitative","scale":{"domain":[0,229],"nice":false,"zero":false,"reverse":true},"axis":null},"text":{"value":"P=0.01"}}},
    {"mark":{"type":"rect","fill":"transparent","stroke":"#555555","strokeWidth":1},"encoding":{"x":{"datum":247.5,"type":"quantitative","scale":{"domain":[0,383],"nice":false,"zero":false},"axis":null},"x2":{"datum":377.5},"y":{"datum":158.5,"type":"quantitative","scale":{"domain":[0,229],"nice":false,"zero":false,"reverse":true},"axis":null},"y2":{"datum":188.5}}},
    {"mark":{"type":"rule","color":"#d23a45","strokeWidth":1},"encoding":{"x":{"datum":261.7,"type":"quantitative","scale":{"domain":[0,383],"nice":false,"zero":false},"axis":null},"x2":{"datum":278.3},"y":{"datum":166.7,"type":"quantitative","scale":{"domain":[0,229],"nice":false,"zero":false,"reverse":true},"axis":null}}},
    {"mark":{"type":"point","shape":"diamond","filled":true,"size":95,"color":"#e3151f","opacity":1},"encoding":{"x":{"datum":270.5,"type":"quantitative","scale":{"domain":[0,383],"nice":false,"zero":false},"axis":null},"y":{"datum":166.7,"type":"quantitative","scale":{"domain":[0,229],"nice":false,"zero":false,"reverse":true},"axis":null}}},
    {"mark":{"type":"text","align":"left"},"encoding":{"x":{"datum":280.5,"type":"quantitative","scale":{"domain":[0,383],"nice":false,"zero":false},"axis":null},"y":{"datum":166.7,"type":"quantitative","scale":{"domain":[0,229],"nice":false,"zero":false,"reverse":true},"axis":null},"text":{"value":"Bimatoprost Gel"}}},
    {"mark":{"type":"rule","color":"#efb14c","strokeWidth":1},"encoding":{"x":{"datum":261.7,"type":"quantitative","scale":{"domain":[0,383],"nice":false,"zero":false},"axis":null},"x2":{"datum":278.3},"y":{"datum":180,"type":"quantitative","scale":{"domain":[0,229],"nice":false,"zero":false,"reverse":true},"axis":null}}},
    {"mark":{"type":"point","shape":"square","filled":true,"size":60,"color":"#f6a722","opacity":1},"encoding":{"x":{"datum":270.5,"type":"quantitative","scale":{"domain":[0,383],"nice":false,"zero":false},"axis":null},"y":{"datum":180,"type":"quantitative","scale":{"domain":[0,229],"nice":false,"zero":false,"reverse":true},"axis":null}}},
    {"mark":{"type":"text","align":"left"},"encoding":{"x":{"datum":280.5,"type":"quantitative","scale":{"domain":[0,383],"nice":false,"zero":false},"axis":null},"y":{"datum":180,"type":"quantitative","scale":{"domain":[0,229],"nice":false,"zero":false,"reverse":true},"axis":null},"text":{"value":"Control"}}},
    {"mark":{"type":"rect","color":"#111111"},"encoding":{"x":{"datum":-3,"type":"quantitative","scale":{"domain":[0,383],"nice":false,"zero":false},"axis":null},"x2":{"datum":12},"y":{"datum":213,"type":"quantitative","scale":{"domain":[0,229],"nice":false,"zero":false,"reverse":true},"axis":null},"y2":{"datum":229}}},
    {"mark":{"type":"text","color":"white","fontWeight":"bold","fontSize":11},"encoding":{"x":{"datum":4.5,"type":"quantitative","scale":{"domain":[0,383],"nice":false,"zero":false},"axis":null},"y":{"datum":221,"type":"quantitative","scale":{"domain":[0,229],"nice":false,"zero":false,"reverse":true},"axis":null},"text":{"value":"d"}}}
   ]
  }
 ]
}
]
}
